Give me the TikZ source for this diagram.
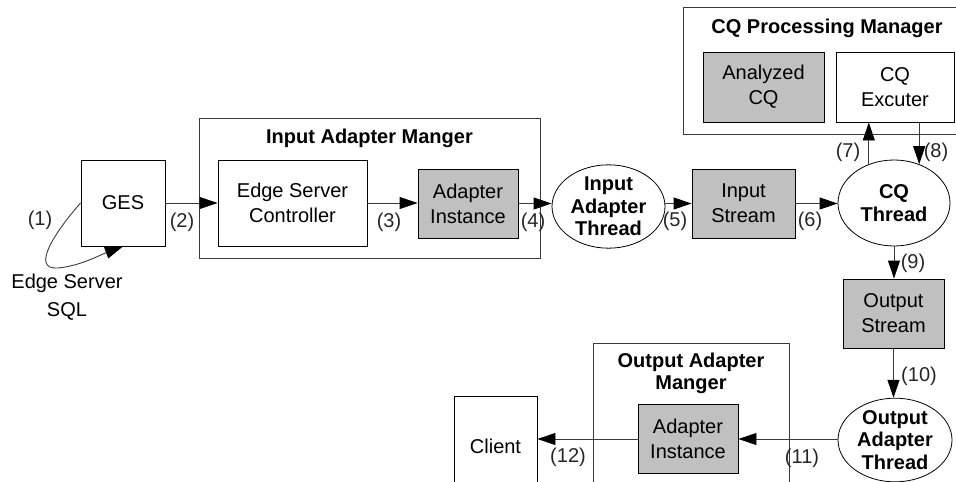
\documentclass[tikz,border=0pt]{standalone}
\usepackage{fontspec}
\setmainfont{Liberation Sans}
\usetikzlibrary{arrows.meta,shapes.geometric}
\definecolor{boxgray}{HTML}{C0C0C0}
\definecolor{linegray}{HTML}{3A3A3A}
\tikzset{
  txt/.style={font=\fontsize{20}{25}\selectfont, align=center, inner sep=0pt},
  btxt/.style={font=\fontsize{20}{22.5}\selectfont\bfseries, align=center, inner sep=0pt},
  wbox/.style={draw=black, fill=white, line width=0.9pt, rectangle, inner sep=0pt, txt},
  gbox/.style={draw=black, fill=boxgray, line width=0.9pt, rectangle, inner sep=0pt, txt},
  container/.style={draw=linegray, line width=1pt, rectangle, inner sep=0pt},
  thread/.style={draw=black, fill=white, line width=0.8pt, ellipse, inner sep=0pt, btxt},
  arr/.style={draw=linegray, line width=0.9pt, -{Triangle[length=18pt,width=12pt,color=black]}},
  lbl/.style={font=\fontsize{20}{22}\selectfont, inner sep=0pt, text=black!85}
}
\begin{document}
\begin{tikzpicture}[x=1pt,y=-1pt]
\useasboundingbox (0,0) rectangle (956,482);
% containers
\node[container, minimum width=341, minimum height=140] (iam) at (369.5,188) {};
\node[btxt] (iamt) at (369.5,138) {Input Adapter Manger};
\node[container, minimum width=280, minimum height=127] (cqpm) at (823,70.5) {};
\node[btxt] (cqpmt) at (827,28) {CQ Processing Manager};
\node[container, minimum width=196, minimum height=150] (oam) at (691,418) {};
\node[btxt, font=\fontsize{20}{22}\selectfont\bfseries] (oamt) at (691,373) {Output Adapter\\Manger};
% boxes
\node[wbox, minimum width=84, minimum height=86] (ges) at (123,203) {GES};
\node[wbox, minimum width=149, minimum height=86] (esc) at (292.5,203) {Edge Server\\Controller};
\node[gbox, minimum width=100, minimum height=69] (ai1) at (468,203.5) {Adapter\\Instance};
\node[thread, minimum width=113, minimum height=77] (iat) at (608.5,206.5) {Input\\Adapter\\Thread};
\node[gbox, minimum width=103, minimum height=69] (is) at (743.5,203.5) {Input\\Stream};
\node[thread, minimum width=112, minimum height=86] (cqt) at (894,203) {CQ\\Thread};
\node[gbox, minimum width=121, minimum height=70] (acq) at (763.5,87) {Analyzed\\CQ};
\node[wbox, minimum width=118, minimum height=70] (cqe) at (895,87) {CQ\\Excuter};
\node[gbox, minimum width=101, minimum height=69] (os) at (893.5,313.5) {Output\\Stream};
\node[thread, minimum width=114, minimum height=78] (oat) at (895,440) {Output\\Adapter\\Thread};
\node[gbox, minimum width=100, minimum height=69] (ai2) at (688,439) {Adapter\\Instance};
\node[wbox, minimum width=83, minimum height=100] (cl) at (495.5,446) {Client};
\node[txt] (sql1) at (67,283) {Edge Server};
\node[txt] (sql2) at (67,311) {SQL};
% connectors
\draw[arr] (ges.west) .. controls (55,232) and (30,270) .. (58,268) .. controls (80,266) and (100,255) .. (ges.south);
\draw[arr] (ges.east) -- (esc.west);
\draw[arr] (esc.east) -- (esc.east -| ai1.west);
\draw[arr] (ai1.east) -- (ai1.east -| iat.west);
\draw[arr] (iat.east |- is.west) -- (is.west);
\draw[arr] (is.east) -- (is.east -| cqt.west);
\draw[arr] (cqt.123) -- (cqt.123 |- cqe.south);
\draw[arr] (cqt.57 |- cqe.south) -- (cqt.57);
\draw[arr] (cqt.south) -- (cqt.south |- os.north);
\draw[arr] (os.south) -- (os.south |- oat.north);
\draw[arr] (oat.west |- ai2.east) -- (ai2.east);
\draw[arr] (ai2.west) -- (ai2.west -| cl.east);
% labels
\node[lbl] (l1) at (40,220) {(1)};
\node[lbl] (l2) at (182,222) {(2)};
\node[lbl] (l3) at (389,222) {(3)};
\node[lbl] (l4) at (533,222) {(4)};
\node[lbl] (l5) at (675,221) {(5)};
\node[lbl] (l6) at (810,221) {(6)};
\node[lbl] (l7) at (848,152) {(7)};
\node[lbl] (l8) at (936,152) {(8)};
\node[lbl] (l9) at (913,263) {(9)};
\node[lbl] (l10) at (919,376) {(10)};
\node[lbl] (l11) at (802,458) {(11)};
\node[lbl] (l12) at (568,457) {(12)};
\end{tikzpicture}
\end{document}
